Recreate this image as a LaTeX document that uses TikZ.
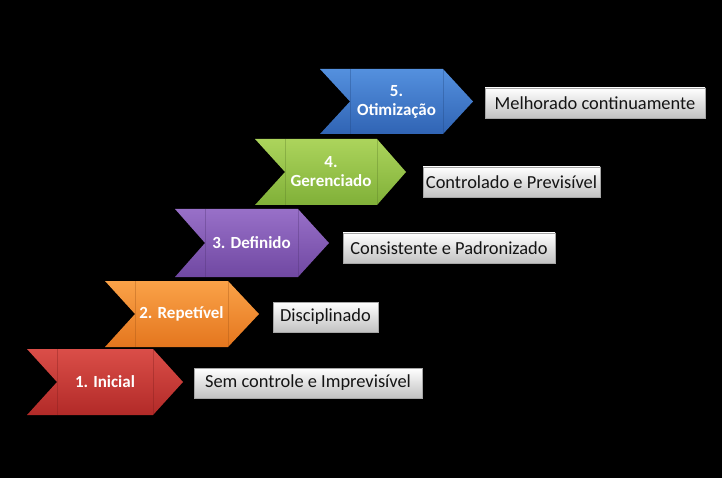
\documentclass[tikz,border=0pt]{standalone}
\usepackage{fontspec}
\setmainfont{Carlito}
\definecolor{redT}{RGB}{218,78,72}
\definecolor{redB}{RGB}{178,42,40}
\definecolor{orgT}{RGB}{250,162,72}
\definecolor{orgB}{RGB}{228,118,30}
\definecolor{purT}{RGB}{152,112,200}
\definecolor{purB}{RGB}{112,72,162}
\definecolor{grnT}{RGB}{172,212,92}
\definecolor{grnB}{RGB}{128,176,56}
\definecolor{bluT}{RGB}{84,144,222}
\definecolor{bluB}{RGB}{48,100,180}
\newcommand\mychev[9]{%
  \shade[top color=#7,bottom color=#8]
    (#2,#5) -- (#3,#5) -- (#4,{(#5+#6)/2}) -- (#3,#6) -- (#2,#6) -- ({#2+30},{(#5+#6)/2}) -- cycle;
  \draw[#8!70!black,opacity=.35,line width=.8pt] ({#2+30},#5) -- ({#2+30},#6);
  \draw[#8!70!black,opacity=.35,line width=.8pt] (#3,#5) -- (#3,#6);
  \node[chevtext] (#1) at ({(#2+30+#3)/2},{(#5+#6)/2}) {#9};}
\begin{document}
\begin{tikzpicture}[x=1pt,y=-1pt,
  chevtext/.style={text=white,font=\fontsize{17}{19}\selectfont\bfseries,align=center,inner sep=0pt},
  infobox/.style={top color=white,bottom color=black!24,draw=black!35,line width=.6pt,
    minimum height=30pt,inner sep=0pt,text=black!92,font=\fontsize{18.4}{21}\selectfont}]
\fill[black] (0,0) rectangle (722,478);
\useasboundingbox (0,0) rectangle (722,478);
\mychev{c1}{27}{153}{183}{349}{415}{redT}{redB}{1. Inicial}
\mychev{c2}{105}{228}{259}{281}{347}{orgT}{orgB}{2. Repetível}
\mychev{c3}{175}{298}{329}{209}{277}{purT}{purB}{3. Definido}
\mychev{c4}{255}{377}{406}{139}{205}{grnT}{grnB}{4.\\Gerenciado}
\mychev{c5}{320}{443}{473}{69}{134}{bluT}{bluB}{5.\\Otimização}
\node[infobox,minimum width=228pt] (b1) at (308,383) {Sem controle e Imprevisível};
\node[infobox,minimum width=105pt] (b2) at (325.5,317) {Disciplinado};
\node[infobox,minimum width=212pt] (b3) at (449,248) {Consistente e Padronizado};
\node[infobox,minimum width=177pt] (b4) at (511.5,182) {Controlado e Previsível};
\node[infobox,minimum width=220pt] (b5) at (595,103) {Melhorado continuamente};
\end{tikzpicture}
\end{document}
